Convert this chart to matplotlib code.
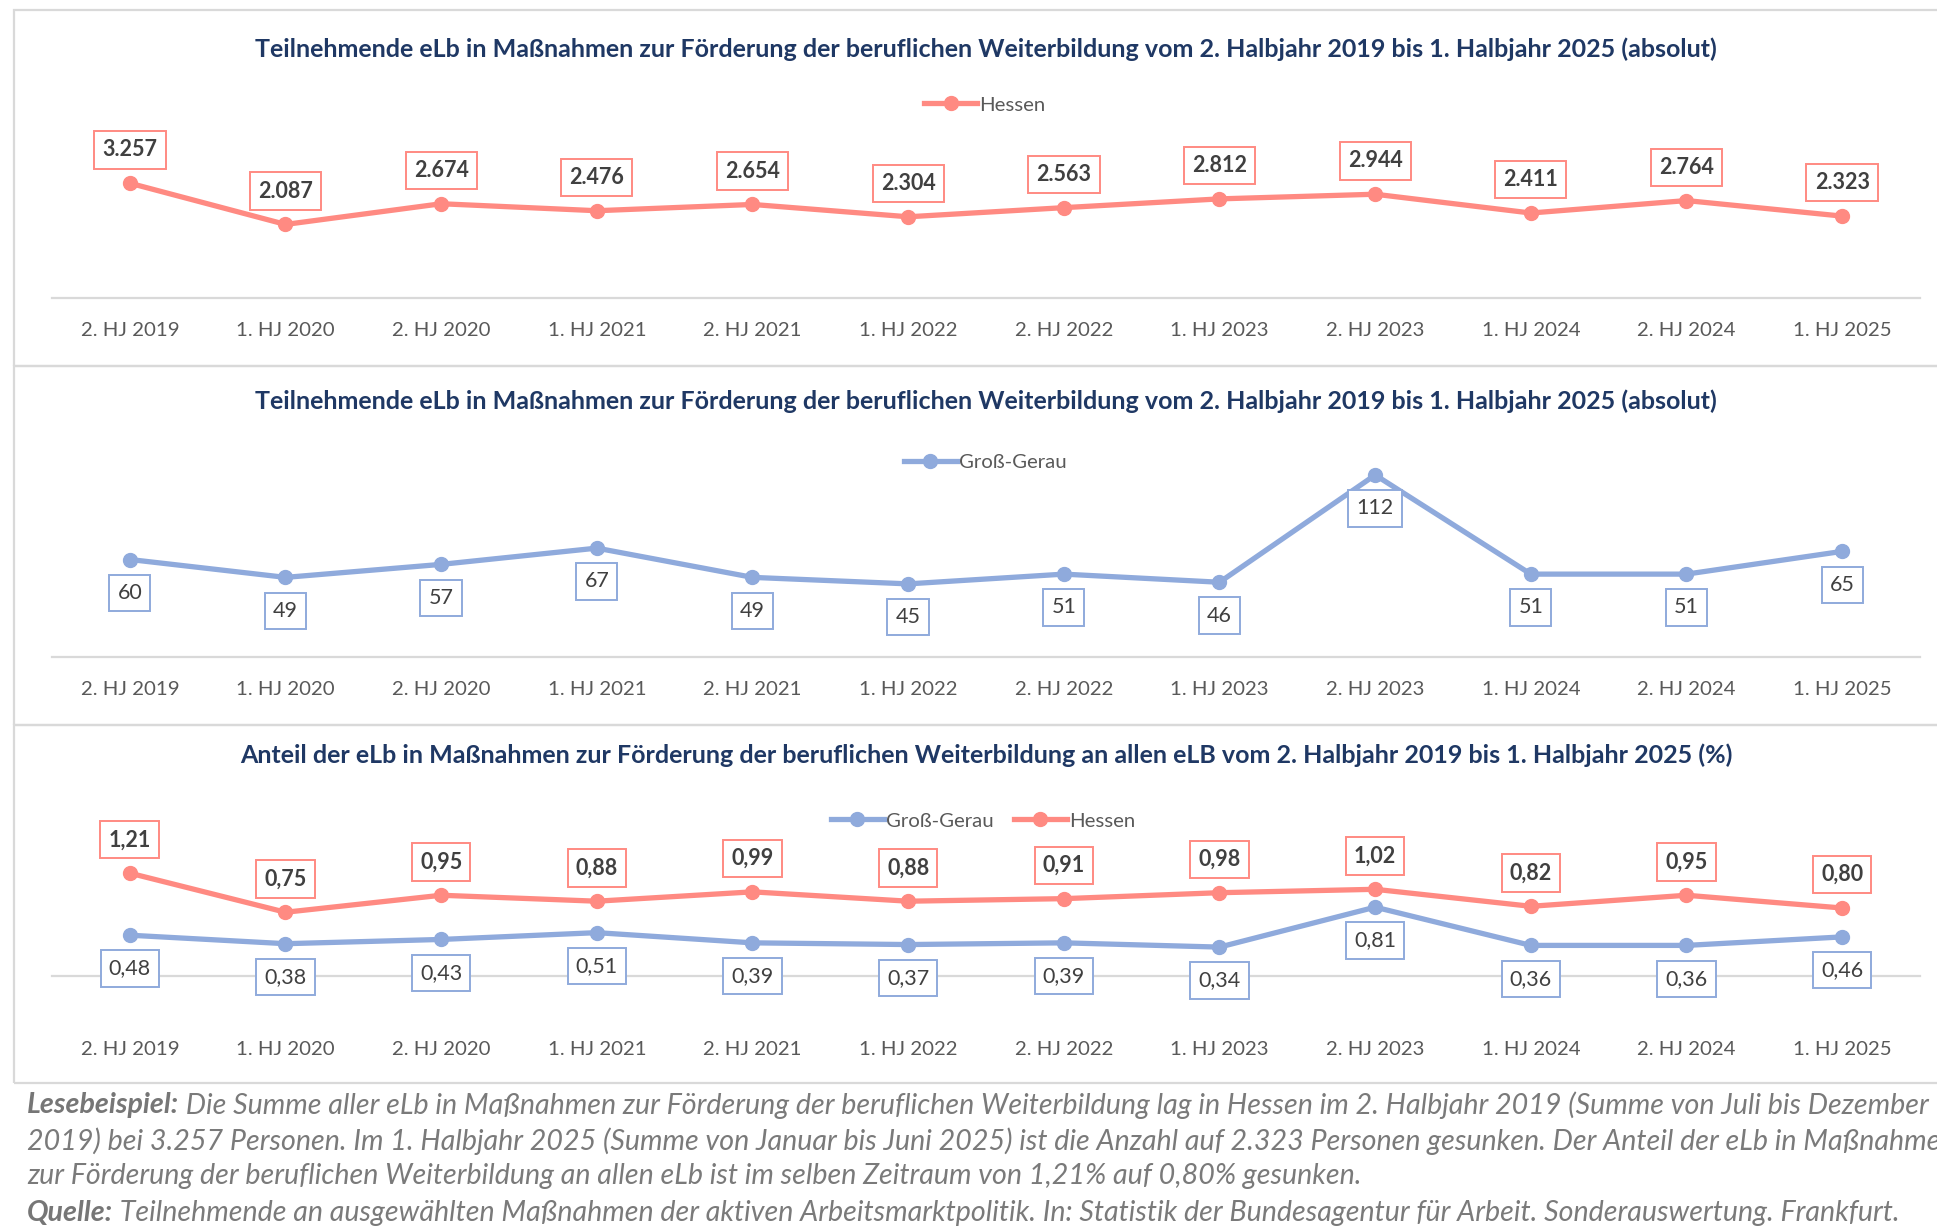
import matplotlib
matplotlib.use("Agg")
import matplotlib.pyplot as plt
from matplotlib.lines import Line2D
from matplotlib.patches import Rectangle

plt.rcParams["font.family"] = ["Lato", "DejaVu Sans"]

W, H = 1937, 1229

categories = ["2. HJ 2019", "1. HJ 2020", "2. HJ 2020", "1. HJ 2021", "2. HJ 2021", "1. HJ 2022",
              "2. HJ 2022", "1. HJ 2023", "2. HJ 2023", "1. HJ 2024", "2. HJ 2024", "1. HJ 2025"]
hessen_abs = [3257, 2087, 2674, 2476, 2654, 2304, 2563, 2812, 2944, 2411, 2764, 2323]
gg_abs = [60, 49, 57, 67, 49, 45, 51, 46, 112, 51, 51, 65]
hessen_pct = [1.21, 0.75, 0.95, 0.88, 0.99, 0.88, 0.91, 0.98, 1.02, 0.82, 0.95, 0.80]
gg_pct = [0.48, 0.38, 0.43, 0.51, 0.39, 0.37, 0.39, 0.34, 0.81, 0.36, 0.36, 0.46]

titles = [
    "Teilnehmende eLb in Maßnahmen zur Förderung der beruflichen Weiterbildung vom 2. Halbjahr 2019 bis 1. Halbjahr 2025 (absolut)",
    "Teilnehmende eLb in Maßnahmen zur Förderung der beruflichen Weiterbildung vom 2. Halbjahr 2019 bis 1. Halbjahr 2025 (absolut)",
    "Anteil der eLb in Maßnahmen zur Förderung der beruflichen Weiterbildung an allen eLB vom 2. Halbjahr 2019 bis 1. Halbjahr 2025 (%)",
]

footer = [
    ("Lesebeispiel:", " Die Summe aller eLb in Maßnahmen zur Förderung der beruflichen Weiterbildung lag in Hessen im 2. Halbjahr 2019 (Summe von Juli bis Dezember"),
    ("", "2019) bei 3.257 Personen. Im 1. Halbjahr 2025 (Summe von Januar bis Juni 2025) ist die Anzahl auf 2.323 Personen gesunken. Der Anteil der eLb in Maßnahmen"),
    ("", "zur Förderung der beruflichen Weiterbildung an allen eLb ist im selben Zeitraum von 1,21% auf 0,80% gesunken."),
    ("Quelle:", " Teilnehmende an ausgewählten Maßnahmen der aktiven Arbeitsmarktpolitik. In: Statistik der Bundesagentur für Arbeit. Sonderauswertung. Frankfurt."),
]

RED = "#FF8A82"
BLUE = "#8FAADC"
NAVY = "#1F3864"
GRID = "#D9D9D9"
TICK = "#595959"
LABEL = "#404040"

fig = plt.figure(figsize=(W / 100, H / 100), dpi=100)


def add_ax(x0, ytop, x1, ybot):
    return fig.add_axes([x0 / W, 1 - ybot / H, (x1 - x0) / W, (ybot - ytop) / H])


def fx(x):
    return x / W


def fy(y):
    return 1 - y / H


def de_int(v):
    return f"{v:,}".replace(",", ".")


def de_dec(v):
    return f"{v:.2f}".replace(".", ",")


def style_ax(ax, ymax, pad):
    ax.set_xlim(-0.5, 11.5)
    ax.set_ylim(0, ymax)
    for s in ["top", "left", "right"]:
        ax.spines[s].set_visible(False)
    ax.spines["bottom"].set_color(GRID)
    ax.spines["bottom"].set_linewidth(1.6)
    ax.set_yticks([])
    ax.set_xticks(range(len(categories)), categories)
    ax.tick_params(axis="x", length=0, pad=pad, labelsize=14.7, labelcolor=TICK)
    ax.patch.set_alpha(0)


def draw_series(ax, values, color, fmt, above, bold):
    ax.plot(range(len(values)), values, color=color, lw=3.8, marker="o", ms=10,
            solid_capstyle="round", zorder=3)
    dy = 24 if above else -24
    for i, v in enumerate(values):
        ax.annotate(fmt(v), (i, v), xytext=(0, dy), textcoords="offset points",
                    ha="center", va="center", fontsize=15.5,
                    fontweight="bold" if bold else "normal", color=LABEL, zorder=5,
                    bbox=dict(boxstyle="square,pad=0.38", fc="white", ec=color, lw=1.4))


def legend(items, cx, cy):
    handles = [Line2D([], [], color=c, lw=3.8, marker="o", ms=10) for c, _ in items]
    fig.legend(handles, [n for _, n in items], loc="center", bbox_to_anchor=(fx(cx), fy(cy)),
               ncol=len(items), frameon=False, fontsize=14.7, labelcolor=TICK,
               handlelength=2.6, handletextpad=0.1, columnspacing=1.0)


# panel frames
for ytop, ybot in [(10, 366), (366, 725), (725, 1083)]:
    fig.patches.append(Rectangle((fx(14), fy(ybot)), fx(2000), (ybot - ytop) / H,
                                 transform=fig.transFigure, fill=False, ec=GRID, lw=1.6))

# panel 1
ax1 = add_ax(52, 157, 1920, 298)
style_ax(ax1, 4000, 17)
draw_series(ax1, hessen_abs, RED, de_int, True, True)
fig.text(fx(986), fy(49), titles[0], ha="center", va="center", fontsize=18,
         fontweight="bold", color=NAVY)
legend([(RED, "Hessen")], 985, 105)

# panel 2
ax2 = add_ax(52, 462, 1920, 657)
style_ax(ax2, 120, 17)
draw_series(ax2, gg_abs, BLUE, str, False, False)
fig.text(fx(986), fy(401), titles[1], ha="center", va="center", fontsize=18,
         fontweight="bold", color=NAVY)
legend([(BLUE, "Groß-Gerau")], 985, 462)

# panel 3
ax3 = add_ax(52, 857, 1920, 976)
style_ax(ax3, 1.4, 46.5)
draw_series(ax3, gg_pct, BLUE, de_dec, False, False)
draw_series(ax3, hessen_pct, RED, de_dec, True, True)
fig.text(fx(986), fy(755), titles[2], ha="center", va="center", fontsize=18,
         fontweight="bold", color=NAVY)
legend([(BLUE, "Groß-Gerau"), (RED, "Hessen")], 983, 821)

# footer text
renderer = fig.canvas.get_renderer()
for (head, rest), y in zip(footer, [1105, 1141, 1176, 1213]):
    x = fx(27)
    if head:
        t = fig.text(x, fy(y), head, ha="left", va="center", fontsize=20.6, style="italic",
                     fontweight="bold", color="#767676")
        x = fig.transFigure.inverted().transform(t.get_window_extent(renderer).p1)[0]
    fig.text(x, fy(y), rest, ha="left", va="center", fontsize=20.6, style="italic",
             color="#7A7A7A")

fig.savefig("out.png", dpi=100)
